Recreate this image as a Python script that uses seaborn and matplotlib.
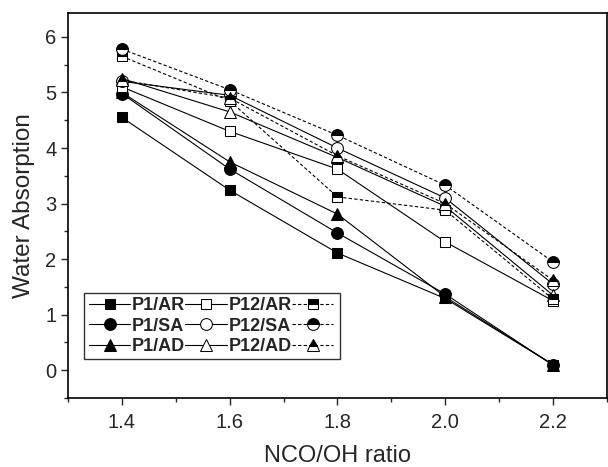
import matplotlib
matplotlib.use("Agg")
import matplotlib.pyplot as plt
import seaborn as sns
import pandas as pd
from matplotlib.ticker import MultipleLocator

ratio = [1.4, 1.6, 1.8, 2.0, 2.2]

p1_ar = [4.55, 3.24, 2.11, 1.29, 0.10]
p1_sa = [4.98, 3.62, 2.47, 1.37, 0.09]
p1_ad = [5.00, 3.75, 2.81, 1.32, 0.10]
p12_ar = [5.10, 4.30, 3.62, 2.31, 1.25]
p12_sa = [5.20, 4.95, 4.00, 3.10, 1.55]
p12_ad = [5.25, 4.65, 3.83, 2.95, 1.35]
p2_ar = [5.65, 4.85, 3.12, 2.88, 1.28]
p2_sa = [5.78, 5.05, 4.23, 3.33, 1.95]
p2_ad = [5.22, 4.90, 3.86, 3.00, 1.62]

# name, values, marker, fill, linestyle, text shown in legend (P2 text is cut off in the original)
series = [
    ("P1/AR", p1_ar, "s", "full", "-", "P1/AR"),
    ("P1/SA", p1_sa, "o", "full", "-", "P1/SA"),
    ("P1/AD", p1_ad, "^", "full", "-", "P1/AD"),
    ("P12/AR", p12_ar, "s", "none", "-", "P12/AR"),
    ("P12/SA", p12_sa, "o", "none", "-", "P12/SA"),
    ("P12/AD", p12_ad, "^", "none", "-", "P12/AD"),
    ("P2/AR", p2_ar, "s", "top", (0, (3, 2)), ""),
    ("P2/SA", p2_sa, "o", "top", (0, (3, 2)), ""),
    ("P2/AD", p2_ad, "^", "top", (0, (3, 2)), ""),
]

sns.set_style("ticks")
plt.rcParams["font.family"] = ["Liberation Sans", "DejaVu Sans"]

fig = plt.figure(figsize=(6.08, 4.67), dpi=100)
ax = fig.add_axes([0.112, 0.148, 0.886, 0.824])

handles = []
for name, vals, mk, fs, ls, _ in series:
    df = pd.DataFrame({"ratio": ratio, "wa": vals})
    kw = dict(marker=mk, markersize=8.5 if mk != "s" else 7.5, color="black",
              markeredgecolor="black", linewidth=0.8, linestyle=ls)
    if fs == "none":
        kw.update(markerfacecolor="white")
    elif fs == "top":
        kw.update(fillstyle="top", markerfacecolor="black", markerfacecoloralt="white")
    sns.lineplot(data=df, x="ratio", y="wa", ax=ax, label=name, **kw)
    handles.append(ax.get_lines()[-1])

ax.set_xlim(1.3, 2.3)
ax.set_ylim(-0.5, 6.43)
ax.xaxis.set_minor_locator(MultipleLocator(0.1))
ax.yaxis.set_major_locator(MultipleLocator(1))
ax.yaxis.set_minor_locator(MultipleLocator(0.5))
ax.set_xticks([1.4, 1.6, 1.8, 2.0, 2.2])
ax.set_xticklabels(["1.4", "1.6", "1.8", "2.0", "2.2"])
ax.tick_params(axis="both", which="major", direction="out", length=5, width=1,
               labelsize=14.5, top=False, right=False)
ax.tick_params(axis="x", which="major", pad=6)
ax.tick_params(axis="both", which="minor", direction="out", length=3, width=1,
               top=False, right=False)
for sp in ax.spines.values():
    sp.set_visible(True)
    sp.set_linewidth(1.2)
    sp.set_color("black")

ax.set_xlabel("NCO/OH ratio", fontsize=17, labelpad=9)
ax.set_ylabel("Water Absorption", fontsize=17.5, labelpad=7)

leg = ax.legend(handles=handles, labels=[s[5] for s in series], ncol=3,
                loc="lower left", bbox_to_anchor=(0.03, 0.1),
                prop={"weight": "bold", "size": 13}, frameon=True,
                fancybox=False, edgecolor="black", handlelength=2.3,
                handletextpad=0.1, columnspacing=0.0, labelspacing=0.18,
                borderpad=0.25, borderaxespad=0)
leg.get_frame().set_linewidth(1.0)

fig.savefig("out.png", dpi=100)
